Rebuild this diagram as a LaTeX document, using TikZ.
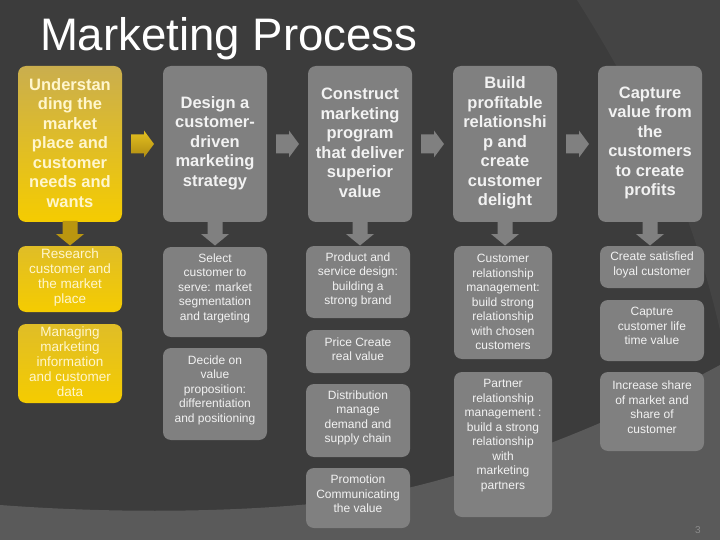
\documentclass[tikz,border=0pt]{standalone}
\usepackage{fontspec}
\setmainfont{Liberation Sans}
\usetikzlibrary{calc}
\definecolor{bgdark}{HTML}{3C3C3C}
\definecolor{bgwedge}{HTML}{444444}
\definecolor{bgband}{HTML}{5A5A5A}
\definecolor{boxgrey}{HTML}{808080}
\definecolor{txtw}{HTML}{F2F2F2}
\definecolor{ytxt}{RGB}{255,246,205}
\definecolor{ytop}{RGB}{202,174,78}
\definecolor{ymid}{RGB}{176,140,18}
\definecolor{ybot}{RGB}{245,204,0}
\definecolor{pgnum}{HTML}{8C8C8C}
\begin{document}
\begin{tikzpicture}[x=1pt,y=-1pt,
  every node/.style={inner sep=0pt, outer sep=0pt},
  box/.style={rounded corners=8pt, minimum width=#1, draw=none},
  box/.default=104pt,
  gbox/.style={box=#1, fill=boxgrey},
  gbox/.default=104pt,
  ybox/.style={box, top color=ytop, middle color=ymid, bottom color=ybot},
  ysub/.style={box, top color=ytop!50!ybot, middle color=ymid!80!ybot, bottom color=ybot},
  big/.style={font=\bfseries\fontsize{16.5}{19.5}\selectfont, text=txtw, align=center},
  ybig/.style={big, text=ytxt},
  small/.style={font=\fontsize{12}{14.5}\selectfont, text=txtw, align=center},
  ysmall/.style={font=\fontsize{13.5}{15}\selectfont, text=ytxt, align=center},
  garrow/.style={fill=boxgrey},
  yarrow/.style={top color=ytop!40!ybot, bottom color=ymid},
  ydarrow/.style={fill=ymid!85!ybot},
  rarr/.pic={\path[pic actions] (-11.5,-9.5) -- (1.5,-9.5) -- (1.5,-13.5) -- (11.5,0) -- (1.5,13.5) -- (1.5,9.5) -- (-11.5,9.5) -- cycle;},
  darr/.pic={\path[pic actions] (-7.5,-1) -- (-7.5,12) -- (-14,12) -- (0,23.5) -- (14,12) -- (7.5,12) -- (7.5,-1) -- cycle;}
]
\useasboundingbox (0,0) rectangle (720,540);
% background
\fill[bgdark] (0,0) rectangle (720,540);
\fill[bgwedge] (577,0) .. controls (640,100) and (690,200) .. (720,330) -- (720,0) -- cycle;
\fill[bgband] (0,505) .. controls (120,514) and (240,512) .. (330,502)
  .. controls (450,488) and (600,430) .. (720,365) -- (720,540) -- (0,540) -- cycle;

% title
\node[anchor=base west, font=\fontsize{45.6}{54}\selectfont, text=white] (title) at (40,51) {Marketing Process};

% top row
\node[ybox, minimum height=156pt] (b1) at (70,144) {};
\node[ybig] (b1t) at ([yshift=1pt]b1.center) {Understan\\ding the\\market\\place and\\customer\\needs and\\wants};
\node[gbox, minimum height=156pt] (b2) at (215,144) {};
\node[big] (b2t) at ([yshift=1pt]b2.center) {Design a\\customer-\\driven\\marketing\\strategy};
\node[gbox, minimum height=156pt] (b3) at (360,144) {};
\node[big] (b3t) at ([yshift=1pt]b3.center) {Construct\\marketing\\program\\that deliver\\superior\\value};
\node[gbox, minimum height=156pt] (b4) at (505,144) {};
\node[big] (b4t) at ([yshift=1pt]b4.center) {Build\\profitable\\relationshi\\p and\\create\\customer\\delight};
\node[gbox, minimum height=156pt] (b5) at (650,144) {};
\node[big] (b5t) at ([yshift=1pt]b5.center) {Capture\\value from\\the\\customers\\to create\\profits};

% right arrows
\pic[yarrow] at ($(b1.east)!0.5!(b2.west)$) {rarr};
\pic[garrow] at ($(b2.east)!0.5!(b3.west)$) {rarr};
\pic[garrow] at ($(b3.east)!0.5!(b4.west)$) {rarr};
\pic[garrow] at ($(b4.east)!0.5!(b5.west)$) {rarr};

% column 1
\node[ysub, minimum height=66pt] (r1) at (70,279) {};
\node[ysmall] (r1t) at ([yshift=1.5pt]r1.center) {Research\\customer and\\the market\\place};
\node[ysub, minimum height=79pt] (r2) at (70,363.5) {};
\node[ysmall] (r2t) at ([yshift=1.5pt]r2.center) {Managing\\marketing\\information\\and customer\\data};

% column 2
\node[gbox, minimum height=90pt] (s1) at (215,292) {};
\node[small] (s1t) at ([yshift=4pt]s1.center) {Select\\customer to\\serve: market\\segmentation\\and targeting};
\node[gbox, minimum height=92pt] (s2) at (215,394) {};
\node[small] (s2t) at ([yshift=4pt]s2.center) {Decide on\\value\\proposition:\\differentiation\\and positioning};

% column 3
\node[gbox, minimum height=72pt] (p1) at (358,282) {};
\node[small] (p1t) at ([yshift=2pt]p1.center) {Product and\\service design:\\building a\\strong brand};
\node[gbox, minimum height=43pt] (p2) at (358,351.5) {};
\node[small] (p2t) at ([yshift=2.5pt]p2.center) {Price Create\\real value};
\node[gbox, minimum height=73pt] (p3) at (358,420.5) {};
\node[small] (p3t) at ([yshift=2.5pt]p3.center) {Distribution\\manage\\demand and\\supply chain};
\node[gbox, minimum height=60pt] (p4) at (358,498) {};
\node[small] (p4t) at ([yshift=4pt]p4.center) {Promotion\\Communicating\\the value};

% column 4
\node[gbox=98pt, minimum height=113pt] (c1) at (503,302.5) {};
\node[small] (c1t) at ([yshift=0.5pt]c1.center) {Customer\\relationship\\management:\\build strong\\relationship\\with chosen\\customers};
\node[gbox=98pt, minimum height=145pt] (c2) at (503,444.5) {};
\node[small] (c2t) at ([yshift=9pt]c2.center) {Partner\\relationship\\management :\\build a strong\\relationship\\with\\marketing\\partners};

% column 5
\node[gbox, minimum height=42pt] (v1) at (652,267) {};
\node[small] (v1t) at ([yshift=2pt]v1.center) {Create satisfied\\loyal customer};
\node[gbox, minimum height=61pt] (v2) at (652,330.5) {};
\node[small] (v2t) at ([yshift=4.5pt]v2.center) {Capture\\customer life\\time value};
\node[gbox, minimum height=79pt] (v3) at (652,411.5) {};
\node[small] (v3t) at ([yshift=4.5pt]v3.center) {Increase share\\of market and\\share of\\customer};

% down arrows
\pic[ydarrow] at (b1.south) {darr};
\pic[garrow] at (b2.south) {darr};
\pic[garrow] at (b3.south) {darr};
\pic[garrow] at (b4.south) {darr};
\pic[garrow] at (b5.south) {darr};

% page number
\node[font=\fontsize{10}{12}\selectfont, text=pgnum] (pg) at (698,530) {3};
\end{tikzpicture}
\end{document}
